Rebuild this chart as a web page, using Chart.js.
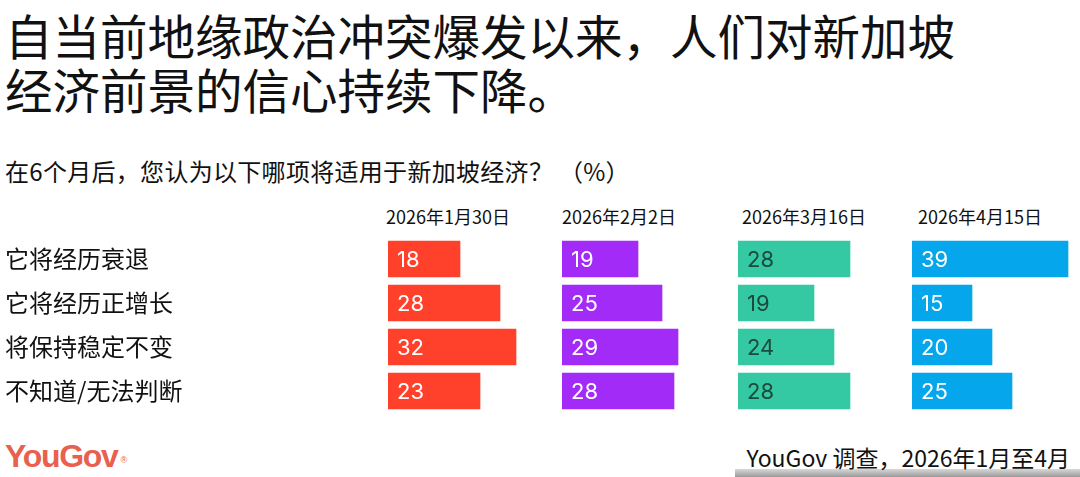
<!DOCTYPE html>
<html>
<head>
<meta charset="utf-8">
<script src="https://cdn.jsdelivr.net/npm/chart.js@4.4.1/dist/chart.umd.min.js"></script>
<style>
  html, body { margin:0; padding:0; background:#fff; }
  body { width:1080px; height:477px; position:relative; overflow:hidden; font-family:"Noto Sans CJK SC", "Noto Sans", sans-serif; color:#111; }
  .abs { position:absolute; white-space:nowrap; }
  #title { left:5px; top:8px; font-size:47.5px; line-height:54px; color:#111; }
  #subtitle { left:5px; top:156px; font-size:24px; line-height:30px; color:#111; letter-spacing:0.3px; }
  .hdr { top:204px; font-size:18px; line-height:24px; color:#111; }
  canvas { position:absolute; }
  #logo { left:5px; top:438px; font-family:"Liberation Sans", Arial, sans-serif; font-weight:bold; font-size:32px; line-height:36px; color:#E8604E; letter-spacing:-1.3px; }
  #logo sup { font-size:9px; font-weight:normal; vertical-align:top; position:relative; top:4px; left:3px; letter-spacing:0; }
  #srcbar { left:735px; top:469px; width:345px; height:8px; background:linear-gradient(to bottom, #d8d8d8, #9a9a9a); }
  #source { right:10px; top:443px; font-size:23px; line-height:28px; color:#111; }
</style>
</head>
<body>
<div id="title" class="abs">自当前地缘政治冲突爆发以来，人们对新加坡<br>经济前景的信心持续下降。</div>
<div id="subtitle" class="abs">在6个月后，您认为以下哪项将适用于新加坡经济？ （%）</div>
<div id="h0" class="abs hdr" style="left:386px"></div>
<div id="h1" class="abs hdr" style="left:562px"></div>
<div id="h2" class="abs hdr" style="left:742px"></div>
<div id="h3" class="abs hdr" style="left:918px"></div>
<canvas id="c0" width="560" height="176" style="left:0px; top:237px"></canvas>
<canvas id="c1" width="172" height="176" style="left:562px; top:237px"></canvas>
<canvas id="c2" width="172" height="176" style="left:738px; top:237px"></canvas>
<canvas id="c3" width="168" height="176" style="left:912px; top:237px"></canvas>
<div id="logo" class="abs">YouGov<sup>®</sup></div>
<div id="srcbar" class="abs"></div>
<div id="source" class="abs">YouGov 调查，2026年1月至4月</div>
<script>
// ---- data ----
const categories = ['它将经历衰退', '它将经历正增长', '将保持稳定不变', '不知道/无法判断'];
const dates = ['2026年1月30日', '2026年2月2日', '2026年3月16日', '2026年4月15日'];
const jan30 = [18, 28, 32, 23];
const feb2 = [19, 25, 29, 28];
const mar16 = [28, 19, 24, 28];
const apr15 = [39, 15, 20, 25];

const series = [jan30, feb2, mar16, apr15];
const colors = ['#FF412B', '#A22BF8', '#34C8A3', '#06A6EC'];
const labelColors = ['#ffffff', '#ffffff', '#1d4a3f', '#ffffff'];

dates.forEach((d, i) => { document.getElementById('h' + i).textContent = d; });

const valueLabels = {
  id: 'valueLabels',
  afterDatasetsDraw(chart, args, opts) {
    const ctx = chart.ctx;
    chart.data.datasets.forEach((ds, di) => {
      const meta = chart.getDatasetMeta(di);
      meta.data.forEach((bar, i) => {
        ctx.save();
        ctx.font = '22px Inter, "Noto Sans", sans-serif';
        ctx.fillStyle = opts.color;
        ctx.textAlign = 'left';
        ctx.textBaseline = 'middle';
        ctx.fillText(String(ds.data[i]), bar.base + 9, bar.y + 1);
        ctx.restore();
      });
    });
  }
};

function makeChart(idx, showLabels, xmax) {
  const ctx = document.getElementById('c' + idx);
  return new Chart(ctx, {
    type: 'bar',
    data: {
      labels: categories,
      datasets: [{
        data: series[idx],
        backgroundColor: colors[idx],
        borderWidth: 0,
        barThickness: 36
      }]
    },
    options: {
      indexAxis: 'y',
      responsive: false,
      animation: false,
      devicePixelRatio: 1,
      layout: { padding: { left: showLabels ? 5 : 0, right: 0, top: 0, bottom: 0 } },
      plugins: {
        legend: { display: false },
        tooltip: { enabled: false },
        title: { display: false },
        valueLabels: { color: labelColors[idx] }
      },
      scales: {
        x: { display: false, min: 0, max: xmax },
        y: {
          display: showLabels,
          grid: { display: false },
          border: { display: false },
          ticks: {
            crossAlign: 'far',
            padding: 0,
            color: '#111',
            font: { family: '"Noto Sans CJK SC", sans-serif', size: 24 }
          },
          afterFit(scale) {
            if (showLabels) {
              scale.width = 383;
              scale.paddingTop = 0;
              scale.paddingBottom = 0;
            }
          }
        }
      }
    },
    plugins: [valueLabels]
  });
}

makeChart(0, true, 43);
makeChart(1, false, 43);
makeChart(2, false, 43);
makeChart(3, false, 42);
</script>
</body>
</html>
